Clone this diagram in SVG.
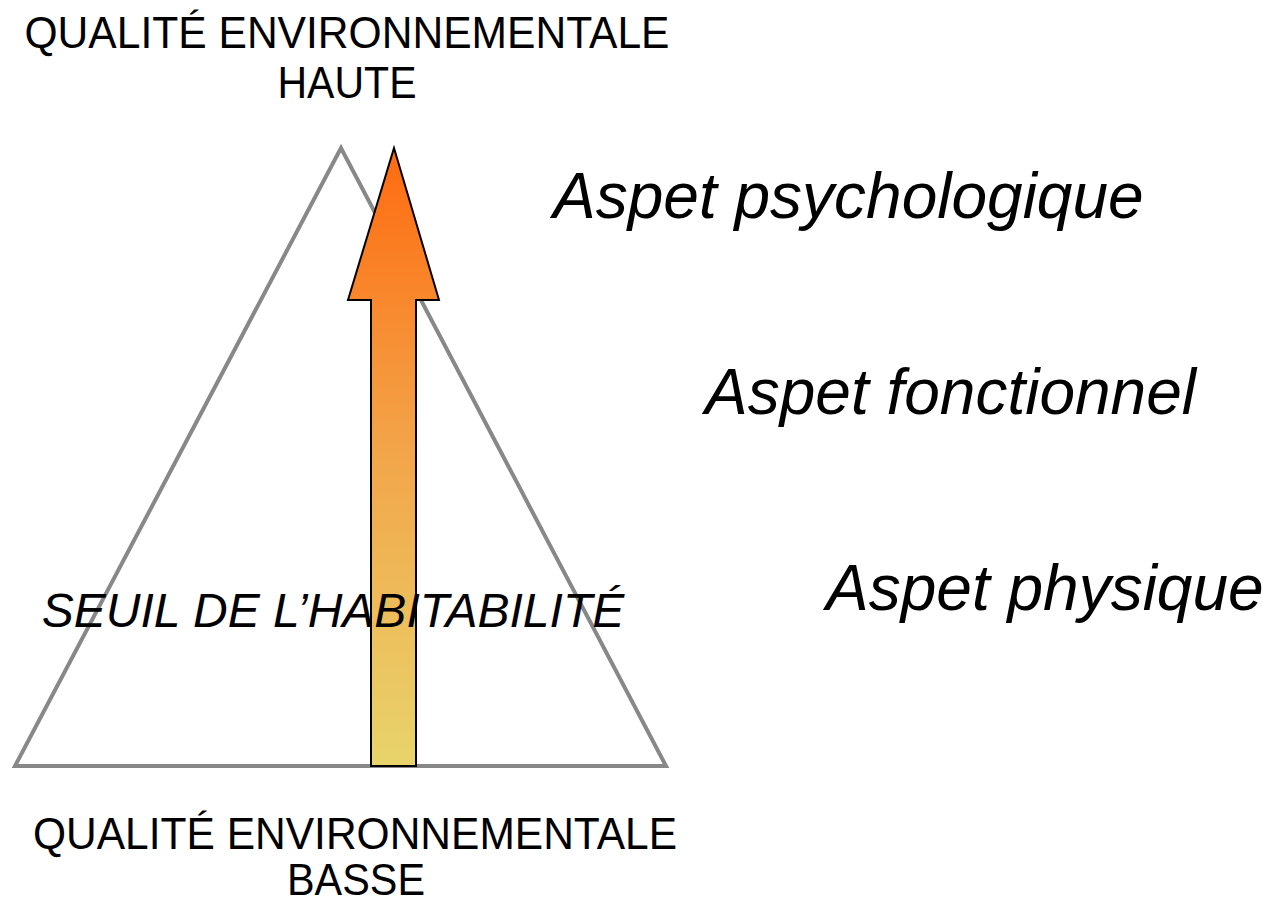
<svg xmlns="http://www.w3.org/2000/svg" width="1267" height="902" viewBox="0 0 1267 902">
<style>
text{font-family:"Liberation Sans",Arial,sans-serif;fill:#000}
.lbl{font-size:44px;text-anchor:middle}
.asp{font-size:64px;font-style:italic}
.seuil{font-size:48px;font-style:italic;text-anchor:middle}
</style>
<defs>
<linearGradient id="g" x1="0" y1="147" x2="0" y2="767" gradientUnits="userSpaceOnUse">
<stop offset="0" stop-color="#FF6A10"/>
<stop offset="0.5" stop-color="#F2A64A"/>
<stop offset="1" stop-color="#E8D46C"/>
</linearGradient>
</defs>
<rect width="1267" height="902" fill="#fff"/>
<g id="triangle">
<polygon points="341,148 15,766 666,766" fill="none" stroke="#888" stroke-width="4" stroke-linejoin="miter"/>
</g>
<g id="arrow">
<polygon points="394,148 439,300 416,300 416,766 371,766 371,300 348,300" fill="url(#g)" stroke="#000" stroke-width="2" stroke-linejoin="miter"/>
</g>
<g id="top-label">
<text class="lbl" x="347" y="48" textLength="645" lengthAdjust="spacingAndGlyphs">QUALITÉ ENVIRONNEMENTALE</text>
<text class="lbl" x="347" y="98" textLength="139" lengthAdjust="spacingAndGlyphs">HAUTE</text>
</g>
<g id="bottom-label">
<text class="lbl" x="355" y="849" textLength="644" lengthAdjust="spacingAndGlyphs">QUALITÉ ENVIRONNEMENTALE</text>
<text class="lbl" x="356" y="895" textLength="138" lengthAdjust="spacingAndGlyphs">BASSE</text>
</g>
<g id="seuil">
<text class="seuil" x="333" y="627">SEUIL DE L’HABITABILITÉ</text>
</g>
<g id="aspects">
<text class="asp" x="553" y="218">Aspet psychologique</text>
<text class="asp" x="705" y="414">Aspet fonctionnel</text>
<text class="asp" x="826" y="610">Aspet physique</text>
</g>
</svg>
